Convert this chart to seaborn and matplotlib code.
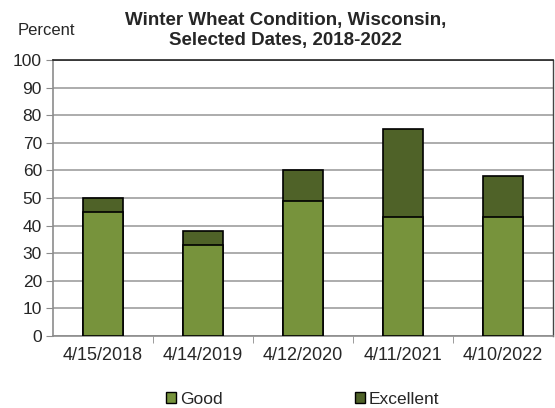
import pandas as pd
import seaborn as sns
import matplotlib.pyplot as plt
from matplotlib.patches import Patch

# data
dates = ["4/15/2018", "4/14/2019", "4/12/2020", "4/11/2021", "4/10/2022"]
good = [45, 33, 49, 43, 43]
excellent = [5, 5, 11, 32, 15]

good_color = "#77933C"
exc_color = "#4F6228"

df = pd.DataFrame({"date": dates, "good": good, "excellent": excellent})
df["total"] = df["good"] + df["excellent"]

sns.set_style("white")
plt.rcParams["font.family"] = ["Liberation Sans", "DejaVu Sans"]

fig = plt.figure(figsize=(5.55, 4.08), dpi=100)
ax = fig.add_axes([53 / 555, 72 / 408, 500 / 555, 276 / 408])

# stacked bars: total drawn first (excellent on top), good over it
sns.barplot(data=df, x="date", y="total", color=exc_color, width=0.4,
            edgecolor="black", linewidth=1.2, saturation=1, ax=ax, zorder=3)
sns.barplot(data=df, x="date", y="good", color=good_color, width=0.4,
            edgecolor="black", linewidth=1.2, saturation=1, ax=ax, zorder=4)

ax.set_ylim(0, 100)
ax.set_xlim(-0.5, 4.5)
ax.set_yticks(range(0, 101, 10))
ax.yaxis.grid(True, color="#a6a6a6", linewidth=1.3)
ax.set_axisbelow(True)
ax.set_xlabel("")
ax.set_ylabel("")

for side in ["left", "bottom"]:
    ax.spines[side].set_color("#8c8c8c")
    ax.spines[side].set_linewidth(1.2)
ax.spines["top"].set_color("#222222")
ax.spines["right"].set_color("#444444")
ax.spines["top"].set_linewidth(1.2)
ax.spines["right"].set_linewidth(1.0)

# category ticks sit between the bars
ax.set_xticks([0.5, 1.5, 2.5, 3.5], minor=True)
ax.tick_params(axis="x", which="major", length=0, labelsize=13, pad=8)
ax.tick_params(axis="x", which="minor", length=5, color="#8c8c8c", direction="out", bottom=True)
ax.tick_params(axis="y", length=5, color="#8c8c8c", direction="out", left=True,
               labelsize=12.5, pad=3)

fig.text(0.514, 0.97, "Winter Wheat Condition, Wisconsin,\nSelected Dates, 2018-2022",
         ha="center", va="top", fontsize=13.5, fontweight="bold", linespacing=1.2)
fig.text(0.032, 0.925, "Percent", ha="left", va="center", fontsize=12)

handles = [Patch(facecolor=good_color, edgecolor="black", label="Good"),
           Patch(facecolor=exc_color, edgecolor="black", label="Excellent")]
fig.legend(handles=handles, loc="center", bbox_to_anchor=(0.545, 0.022), ncol=2,
           frameon=False, fontsize=12.5, handlelength=0.6, handleheight=0.6,
           handletextpad=0.2, columnspacing=7.6)

plt.savefig("out.png", dpi=100)
